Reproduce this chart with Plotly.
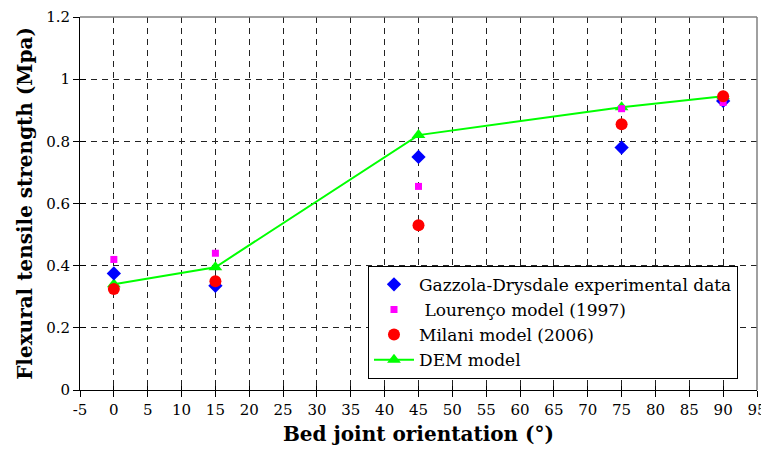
import plotly.graph_objects as go

angles = [0, 15, 45, 75, 90]
gazzola = [0.375, 0.335, 0.75, 0.78, 0.93]
lourenco = [0.42, 0.44, 0.655, 0.905, 0.925]
milani = [0.325, 0.35, 0.53, 0.855, 0.945]
dem = [0.34, 0.395, 0.82, 0.91, 0.945]

names = ["Gazzola-Drysdale experimental data", " Lourenço model (1997)", "Milani model (2006)", "DEM model"]
x_ticks = list(range(-5, 100, 5))
y_ticks = [0, 0.2, 0.4, 0.6, 0.8, 1.0, 1.2]
y_labels = ["0", "0.2", "0.4", "0.6", "0.8", "1", "1.2"]

fig = go.Figure()
fig.add_trace(go.Scatter(x=angles, y=dem, mode="lines+markers", name=names[3],
                         line=dict(color="#00FF00", width=2),
                         marker=dict(symbol="triangle-up", size=12, color="#00FF00")))
fig.add_trace(go.Scatter(x=angles, y=gazzola, mode="markers", name=names[0],
                         marker=dict(symbol="diamond", size=11, color="#0000FF")))
fig.add_trace(go.Scatter(x=angles, y=lourenco, mode="markers", name=names[1],
                         marker=dict(symbol="square", size=7, color="#FF00FF")))
fig.add_trace(go.Scatter(x=angles, y=milani, mode="markers", name=names[2],
                         marker=dict(symbol="circle", size=12, color="#FF0000")))

font = "DejaVu Serif"
tick_font = dict(family=font, size=15)
grid = dict(showgrid=True, gridcolor="#222222", griddash="6px,5px", gridwidth=1)
fig.update_layout(
    width=761, height=458,
    margin=dict(l=72, r=12, t=9, b=76, autoexpand=False),
    paper_bgcolor="white", plot_bgcolor="white",
    font=dict(family=font, size=17, color="black"),
    showlegend=True,
    legend=dict(x=0.4254, y=0.333, xanchor="left", yanchor="top",
                bgcolor="white", bordercolor="black", borderwidth=1,
                font=dict(family=font, size=17, color="black"),
                traceorder="normal", itemwidth=40, tracegroupgap=0),
    xaxis=dict(range=[-5, 95], tickvals=x_ticks, ticktext=[str(v) for v in x_ticks],
               **grid,
               showline=True, linecolor="black", linewidth=1,
               ticks="outside", ticklen=6, tickcolor="black", zeroline=False,
               automargin=False, ticklabeloverflow="allow",
               title=dict(text="<b>Bed joint orientation (°)</b>", font=dict(family=font, size=20), standoff=8),
               tickfont=tick_font),
    yaxis=dict(range=[0, 1.2], tickvals=y_ticks, ticktext=y_labels,
               **grid,
               showline=True, linecolor="black", linewidth=1,
               ticks="outside", ticklen=6, tickcolor="black", zeroline=False,
               automargin=False, ticklabeloverflow="allow",
               title=dict(text="<b>Flexural tensile strength (Mpa)</b>", font=dict(family=font, size=20), standoff=8),
               tickfont=tick_font),
    xaxis2=dict(overlaying="x", matches="x", range=[-5, 95], tickvals=x_ticks,
                showticklabels=False, showgrid=False, zeroline=False, showline=False,
                ticks="inside", ticklen=4, tickcolor="black", side="bottom", anchor="y"),
    yaxis2=dict(overlaying="y", matches="y", range=[0, 1.2], tickvals=y_ticks,
                showticklabels=False, showgrid=False, zeroline=False, showline=False,
                ticks="inside", ticklen=6, tickcolor="black", side="left", anchor="x"),
)
fig.add_trace(go.Scatter(x=[None], y=[None], xaxis="x2", yaxis="y2", showlegend=False, hoverinfo="skip"))
fig.add_shape(type="line", xref="paper", yref="paper", x0=1, x1=1, y0=0, y1=1,
              line=dict(color="gray", width=1.5))
fig.add_shape(type="line", xref="paper", yref="paper", x0=0, x1=1, y0=1, y1=1,
              line=dict(color="gray", width=1.5))

fig.data[0].legendrank = 4
fig.data[1].legendrank = 1
fig.data[2].legendrank = 2
fig.data[3].legendrank = 3

fig.write_html("out.html")
